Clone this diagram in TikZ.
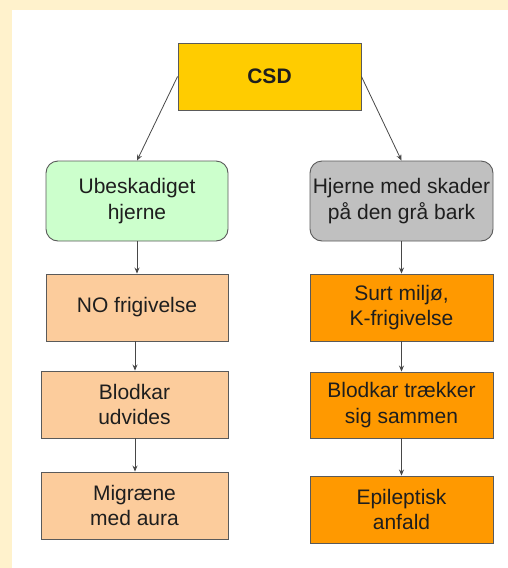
\documentclass[tikz,border=0pt]{standalone}
\usepackage{fontspec}
\setmainfont{Liberation Sans}
\usetikzlibrary{arrows.meta}
\definecolor{bgyellow}{RGB}{255,242,204}
\definecolor{csdgold}{RGB}{255,204,0}
\definecolor{palegreen}{RGB}{204,255,204}
\definecolor{midgray}{RGB}{192,192,192}
\definecolor{peach}{RGB}{252,204,156}
\definecolor{deeporange}{RGB}{255,153,0}
\definecolor{edge}{RGB}{90,90,90}
\definecolor{txt}{RGB}{30,30,30}
\begin{document}
\begin{tikzpicture}[x=1pt,y=-1pt,
  box/.style={draw=edge, line width=0.9pt, align=center, inner sep=0pt,
    text=txt, font=\fontsize{21}{25.5}\selectfont},
  rbox/.style={box, rounded corners=12pt},
  conn/.style={draw=edge!80!black, line width=0.8pt, -{Stealth[length=6pt,width=5pt]}}]
  \useasboundingbox (0,0) rectangle (508,568);
  \fill[bgyellow] (0,0) rectangle (508,568);
  \fill[white] (12,9.5) rectangle (508,568);

  \node[box, fill=csdgold, minimum width=183pt, minimum height=67pt, font=\fontsize{21}{25.5}\selectfont\bfseries] (csd) at (269.5,76.5) {CSD};

  \node[rbox, fill=palegreen, minimum width=182pt, minimum height=80pt] (ub) at (137,201) {Ubeskadiget\\hjerne};
  \node[rbox, fill=midgray, minimum width=183pt, minimum height=80pt] (hj) at (401.5,201) {Hjerne med skader\\på den grå bark};

  \node[box, fill=peach, minimum width=182pt, minimum height=67pt] (no) at (137,307.5) {NO frigivelse};
  \node[box, fill=peach, minimum width=187pt, minimum height=67pt] (bu) at (134.5,404.5) {Blodkar\\udvides};
  \node[box, fill=peach, minimum width=187pt, minimum height=67pt] (mi) at (134.5,505.5) {Migræne\\med aura};

  \node[box, fill=deeporange, minimum width=183pt, minimum height=67pt] (su) at (401.5,307.5) {Surt miljø,\\K-frigivelse};
  \node[box, fill=deeporange, minimum width=183pt, minimum height=66pt] (bt) at (401.5,405) {Blodkar trækker\\sig sammen};
  \node[box, fill=deeporange, minimum width=183pt, minimum height=67pt] (ep) at (401.5,509.5) {Epileptisk\\anfald};

  \draw[conn] (csd.west) -- (ub.north);
  \draw[conn] (csd.east) -- (hj.north);
  \draw[conn] (ub.south) -- (no.north);
  \draw[conn] ([xshift=-2pt]no.south) -- ([xshift=-2pt]no.south |- bu.north);
  \draw[conn] ([xshift=-2pt]no.south |- bu.south) -- ([xshift=-2pt]no.south |- mi.north);
  \draw[conn] (hj.south) -- (su.north);
  \draw[conn] (su.south) -- (bt.north);
  \draw[conn] (bt.south) -- (ep.north);
\end{tikzpicture}
\end{document}
